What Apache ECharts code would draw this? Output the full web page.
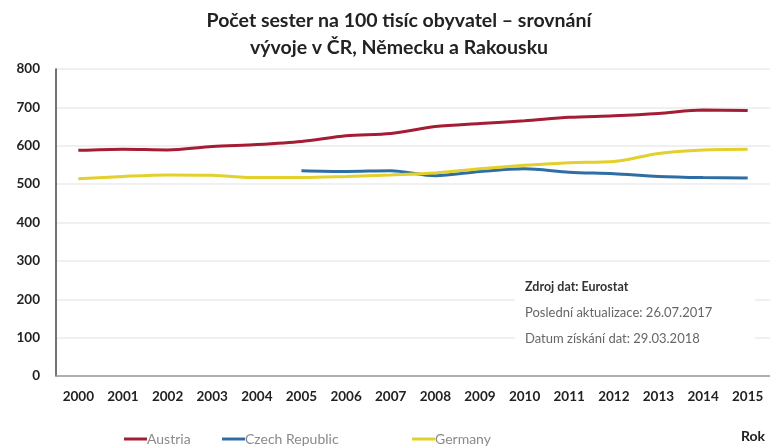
<!DOCTYPE html>
<html><head><meta charset="utf-8">
<script src="https://cdn.jsdelivr.net/npm/echarts@6/dist/echarts.min.js"></script>
<style>html,body{margin:0;padding:0;background:#fff}#c{width:770px;height:447px}</style>
</head><body><div id="c"></div>
<script>
const years = ['2000','2001','2002','2003','2004','2005','2006','2007','2008','2009','2010','2011','2012','2013','2014','2015'];
const austria = [588,591,589,598,603,611,626,632,650,658,665,674,678,684,693,692];
const czech = [null,null,null,null,null,535,533,535,522,533,540,531,527,520,517,516];
const germany = [514,520,524,523,517,517,520,524,529,540,549,556,559,580,589,591];
const yTicks = [0,100,200,300,400,500,600,700,800];
const seriesNames = ['Austria','Czech Republic','Germany'];
const titleText = 'Počet sester na 100 tisíc obyvatel – srovnání\nvývoje v ČR, Německu a Rakousku';
const sourceLines = ['Zdroj dat: Eurostat','Poslední aktualizace: 26.07.2017','Datum získání dat: 29.03.2018'];

const font = 'Lato, "Open Sans", sans-serif';
const legendLefts = [119, 217, 407];
const chart = echarts.init(document.getElementById('c'));
chart.setOption({
  backgroundColor:'#fff',
  animation:false,
  title:{text:titleText,top:2,textAlign:'center',left:394,
    textStyle:{fontFamily:font,fontSize:19.5,fontWeight:'bold',color:'#222',lineHeight:27}},
  grid:{left:56,top:69,width:716,height:307},
  legend:seriesNames.map((n,i)=>({top:427,left:legendLefts[i],itemWidth:23,itemHeight:3,icon:'rect',
    textStyle:{fontFamily:font,fontSize:14,color:'#8a8a8a',padding:[0,0,0,-5]},data:[n]})),
  xAxis:{type:'category',data:years,boundaryGap:true,
    axisLine:{lineStyle:{color:'#999',width:1.5}},axisTick:{show:false},
    axisLabel:{fontFamily:font,fontSize:13.5,fontWeight:'bold',color:'#222',margin:14}},
  yAxis:{type:'value',min:0,max:800,interval:100,
    axisLine:{show:true,lineStyle:{color:'#444',width:1.5}},axisTick:{show:false},
    splitLine:{lineStyle:{color:'#ebebeb',width:1.5}},
    axisLabel:{fontFamily:font,fontSize:13.5,fontWeight:'bold',color:'#222',margin:16,
      formatter:v=>yTicks.includes(v)?String(v):''}},
  graphic:[
    {type:'rect',left:515,top:270,shape:{width:240,height:86},style:{fill:'#fff'},z:1},
    {type:'text',left:525,top:280,z:2,style:{text:sourceLines[0],font:'bold 12.5px '+font,fill:'#333'}},
    {type:'text',left:525,top:306,z:2,style:{text:sourceLines[1],font:'13px '+font,fill:'#666'}},
    {type:'text',left:525,top:332,z:2,style:{text:sourceLines[2],font:'13px '+font,fill:'#666'}},
    {type:'text',right:5,top:429,style:{text:'Rok',font:'bold 14px '+font,fill:'#222'}}
  ],
  series:[
    {name:'Austria',type:'line',data:austria,smooth:0.3,showSymbol:false,lineStyle:{width:3,color:'#a51d35'},itemStyle:{color:'#a51d35'}},
    {name:'Czech Republic',type:'line',data:czech,smooth:0.3,showSymbol:false,lineStyle:{width:3,color:'#2f6ea5'},itemStyle:{color:'#2f6ea5'}},
    {name:'Germany',type:'line',data:germany,smooth:0.3,showSymbol:false,lineStyle:{width:3,color:'#e3d02b'},itemStyle:{color:'#e3d02b'}}
  ]
});
</script></body></html>
